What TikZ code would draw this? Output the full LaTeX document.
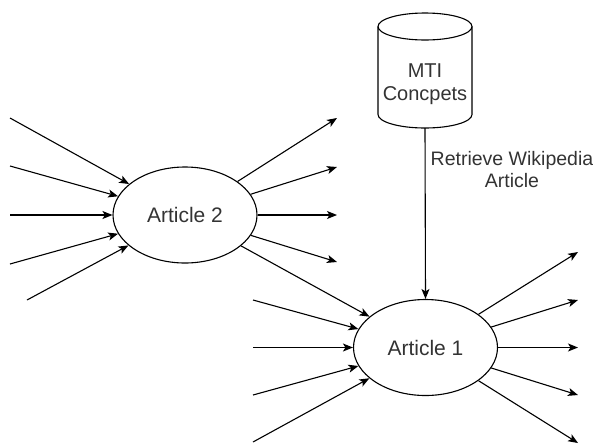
\documentclass[tikz,border=0pt]{standalone}
\usepackage{fontspec}
\setmainfont{Liberation Sans}
\usetikzlibrary{arrows.meta,shapes.geometric}
\begin{document}
\begin{tikzpicture}[x=1pt,y=-1pt,
  every node/.style={text=black!80},
  article/.style={ellipse,draw=black,line width=1.1pt,minimum width=144pt,minimum height=96pt,font=\fontsize{21}{24}\selectfont,inner sep=0pt},
  flow/.style={draw=black,line width=1.1pt,-{Stealth[length=10pt,width=8pt,inset=2.5pt]}},
  lbl/.style={font=\fontsize{19.5}{22}\selectfont,align=center}]
\useasboundingbox (0,0) rectangle (593,445);

% article nodes
\node[article] (a2) at (185,215) {Article 2};
\node[article] (a1) at (425.5,347.5) {Article 1};

% concept store drawn as a cylinder
\draw[line width=1.1pt,fill=white]
  (378,26.5) -- (378,114.5) arc[start angle=180,end angle=0,x radius=47,y radius=13.5]
  -- (472,26.5) arc[start angle=0,end angle=-180,x radius=47,y radius=13.5];
\draw[line width=1.1pt] (378,26.5) arc[start angle=180,end angle=0,x radius=47,y radius=13.5];
\node[minimum width=94pt,minimum height=115pt,inner sep=0pt] (db) at (425,70.5) {};
\node[lbl,font=\fontsize{20}{23}\selectfont] (dbt) at (425,84) {MTI\\Concpets};

% retrieval link
\draw[flow] (db.south) -- (a1.north);
\node[lbl] (rl) at (512,170) {Retrieve Wikipedia\\Article};

% inputs of Article 2
\coordinate (i21) at (10,118);
\coordinate (i22) at (10,166);
\coordinate (i23) at (10,215);
\coordinate (i24) at (10,264);
\coordinate (i25) at (27,300);
\foreach \c in {i21,i22,i23,i24,i25} \draw[flow] (\c) -- (a2);

% outputs of Article 2
\coordinate (o21) at (337,118);
\coordinate (o22) at (337,167);
\coordinate (o23) at (337,215);
\coordinate (o24) at (337,262);
\foreach \c in {o21,o22,o23,o24} \draw[flow] (a2) -- (\c);
\draw[flow] (a2) -- (a1);

% inputs of Article 1
\coordinate (i12) at (253,300);
\coordinate (i13) at (253,347.5);
\coordinate (i14) at (253,395);
\coordinate (i15) at (253,442);
\foreach \c in {i12,i13,i14,i15} \draw[flow] (\c) -- (a1);

% outputs of Article 1
\coordinate (o11) at (578,252);
\coordinate (o12) at (578,300);
\coordinate (o13) at (578,347.5);
\coordinate (o14) at (578,395);
\coordinate (o15) at (578,443);
\foreach \c in {o11,o12,o13,o14,o15} \draw[flow] (a1) -- (\c);
\end{tikzpicture}
\end{document}
